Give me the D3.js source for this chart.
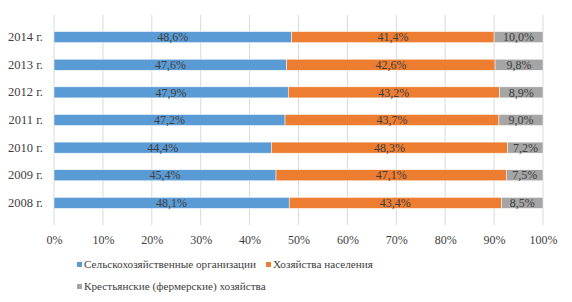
<!DOCTYPE html>
<html>
<head>
<meta charset="utf-8">
<script src="https://cdn.jsdelivr.net/npm/d3@7"></script>
<style>
  body { margin: 0; background: #fff; }
</style>
</head>
<body>
<div id="app"></div>
<script>
const years = ['2008 г.', '2009 г.', '2010 г.', '2011 г.', '2012 г.', '2013 г.', '2014 г.'];
const agriOrgs = [48.1, 45.4, 44.4, 47.2, 47.9, 47.6, 48.6];
const households = [43.4, 47.1, 48.3, 43.7, 43.2, 42.6, 41.4];
const farms = [8.5, 7.5, 7.2, 9.0, 8.9, 9.8, 10.0];
const seriesNames = ['Сельскохозяйственные организации', 'Хозяйства населения', 'Крестьянские (фермерские) хозяйства'];
const ticks = [0, 0.1, 0.2, 0.3, 0.4, 0.5, 0.6, 0.7, 0.8, 0.9, 1];

const colors = ['#5b9bd5', '#ed7d31', '#a5a5a5'];
const keys = ['a', 'h', 'f'];
const serif = '"Liberation Serif", "Times New Roman", serif';

const rows = years.map((y, i) => ({ year: y, a: agriOrgs[i], h: households[i], f: farms[i] }));

const width = 572;
const height = 302;
const mLeft = 54, mRight = 543, mTop = 15, mBottom = 225;

const svg = d3.select('#app')
  .append('svg')
  .attr('width', width)
  .attr('height', height)
  .style('font-family', serif);

const x = d3.scaleLinear().domain([0, 1]).range([mLeft, mRight]);
const y = d3.scaleBand()
  .domain(years.slice().reverse())
  .range([mTop, mBottom])
  .padding(0.6);

// сетка
svg.append('g')
  .selectAll('line')
  .data(ticks)
  .enter()
  .append('line')
  .attr('x1', d => x(d)).attr('x2', d => x(d))
  .attr('y1', mTop).attr('y2', mBottom)
  .attr('stroke', '#d9d9d9')
  .attr('stroke-width', 1);

// подписи оси X
const xAxis = svg.append('g')
  .attr('transform', `translate(0, ${mBottom})`)
  .call(d3.axisBottom(x).tickValues(ticks).tickFormat(d3.format('.0%')).tickSize(0).tickPadding(10))
  .attr('font-family', null)
  .attr('font-size', 12);
xAxis.select('.domain').remove();
xAxis.selectAll('text').attr('fill', '#404040');

// подписи оси Y
const yAxis = svg.append('g')
  .attr('transform', `translate(${mLeft}, 0)`)
  .call(d3.axisLeft(y).tickSize(0).tickPadding(11))
  .attr('font-family', null)
  .attr('font-size', 12.5);
yAxis.select('.domain').remove();
yAxis.selectAll('text').attr('fill', '#404040');

const stack = d3.stack().keys(keys).offset(d3.stackOffsetExpand);
const layers = stack(rows);

const groups = svg.append('g')
  .selectAll('g')
  .data(layers)
  .enter()
  .append('g')
  .attr('fill', (d, i) => colors[i]);

groups.selectAll('rect')
  .data(d => d)
  .enter()
  .append('rect')
  .attr('x', d => x(d[0]))
  .attr('y', d => y(d.data.year))
  .attr('width', d => x(d[1]) - x(d[0]))
  .attr('height', y.bandwidth())
  .attr('stroke', '#fff')
  .attr('stroke-width', 0.5);

const fmt = v => v.toFixed(1).replace('.', ',') + '%';

layers.forEach((layer, k) => {
  svg.append('g')
    .attr('font-size', 12)
    .selectAll('text')
    .data(layer)
    .enter()
    .append('text')
    .attr('x', d => (x(d[0]) + x(d[1])) / 2)
    .attr('y', d => y(d.data.year) + y.bandwidth() / 2)
    .attr('dy', '0.35em')
    .attr('text-anchor', 'middle')
    .attr('fill', '#404040')
    .text(d => fmt(d.data[keys[k]]));
});

// легенда
const legendPos = [[77, 267], [266, 267], [77, 289]];
const legend = svg.append('g')
  .attr('font-size', 11.2)
  .selectAll('g')
  .data(seriesNames)
  .enter()
  .append('g')
  .attr('transform', (d, i) => `translate(${legendPos[i][0]}, ${legendPos[i][1]})`);

legend.append('rect')
  .attr('x', 0).attr('y', -5)
  .attr('width', 5).attr('height', 5)
  .attr('fill', (d, i) => colors[i]);

legend.append('text')
  .attr('x', 7)
  .attr('y', 0)
  .attr('dy', '0.1em')
  .attr('fill', '#404040')
  .text(d => d);
</script>
</body>
</html>
